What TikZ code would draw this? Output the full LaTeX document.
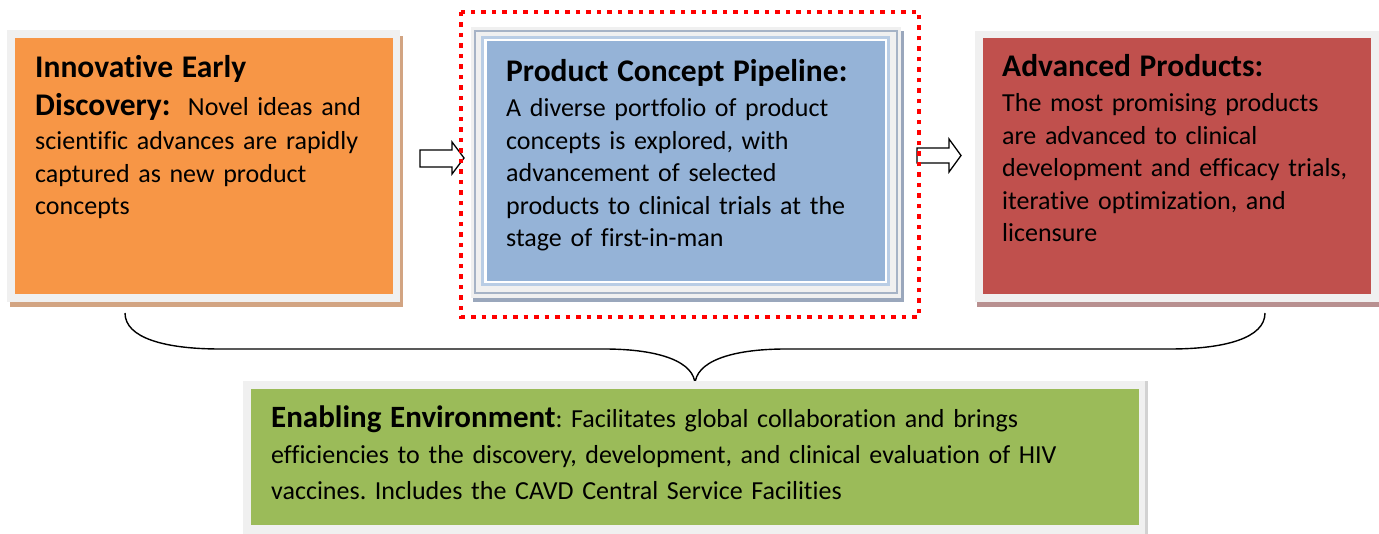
\documentclass[tikz,border=0pt]{standalone}
\usepackage{fontspec}
\setmainfont{Carlito}[Ligatures=NoCommon, RawFeature={-clig;-calt;-dlig}]
\frenchspacing
\newcommand\boxtitle[1]{{\fontsize{31.5}{32.5}\selectfont\bfseries #1}}
\definecolor{framegray}{HTML}{F0F0F0}
\definecolor{discfill}{HTML}{F79646}
\definecolor{discshadow}{HTML}{D2A482}
\definecolor{pipefill}{HTML}{95B3D7}
\definecolor{pipeframe}{HTML}{B9CDE5}
\definecolor{pipeback}{HTML}{9AA7BC}
\definecolor{pipeline}{HTML}{A6B3C6}
\definecolor{advfill}{HTML}{C0504D}
\definecolor{advshadow}{HTML}{B89090}
\definecolor{envfill}{HTML}{9BBB59}
\definecolor{envshadow}{HTML}{D2D2D2}
\definecolor{dotred}{HTML}{FF0000}
\begin{document}
\begin{tikzpicture}[x=1pt,y=-1pt,
  bodytext/.style={anchor=base west, inner sep=0pt, text width=#1, align=left,
    font=\fontsize{26}{32.5}\selectfont},
  blockarrow/.style={draw=black, line width=1.3pt, fill=white, line join=miter}]
\useasboundingbox (0,0) rectangle (1379,534);

% Innovative Early Discovery
\fill[discshadow] (10,36) rectangle (403,307);
\fill[framegray] (7,30) rectangle (400,302);
\fill[discfill] (15,38) rectangle (393,294);
\node[bodytext=360pt] (disc) at (35,78)
  {\boxtitle{Innovative Early}\\[5pt]
   \boxtitle{Discovery:}\ \ Novel ideas and\\[2pt]
   scientific advances are rapidly\\
   captured as new product\\
   concepts};

% Product Concept Pipeline (stacked sheets)
\fill[pipeback] (473,31) rectangle (904,302);
\fill[framegray] (471,27) rectangle (901,298);
\draw[pipeline, line width=1.5pt, fill=framegray] (475,31) rectangle (897,293);
\fill[pipeframe] (481,36) rectangle (890,286);
\fill[white] (484,39) rectangle (887,283);
\fill[pipefill] (487,41) rectangle (885,281);
\node[bodytext=370pt] (pipe) at (506,82)
  {\boxtitle{Product Concept Pipeline:}\\[2.5pt]
   A diverse portfolio of product\\
   concepts is explored, with\\
   advancement of selected\\
   products to clinical trials at the\\
   stage of first-in-man};

% Advanced Products
\fill[advshadow] (977,36) rectangle (1382,307);
\fill[framegray] (975,31) rectangle (1379,302);
\fill[advfill] (983,38) rectangle (1371,294);
\node[bodytext=375pt] (adv) at (1002,77)
  {\boxtitle{Advanced Products:}\\[2.5pt]
   The most promising products\\
   are advanced to clinical\\
   development and efficacy trials,\\
   iterative optimization, and\\
   licensure};

% Block arrows between the stages
\draw[blockarrow] (420,150) -- (452,150) -- (452,142) -- (464,158)
  -- (452,174) -- (452,167) -- (420,167) -- cycle;
\draw[blockarrow] (917,148) -- (949,148) -- (949,139) -- (961,155.5)
  -- (949,172) -- (949,163) -- (917,163) -- cycle;

% Highlight around the pipeline stage
\draw[dotred, line width=4.5pt, dash pattern=on 4.5pt off 6pt] (461,12) rectangle (919,317);

% Brace gathering the three stages
\coordinate (bl) at (125,313);
\coordinate (br) at (1265,313);
\coordinate (bt) at (695,385);
\draw[line width=1.4pt] (bl) .. controls (125,338) and (165,349) .. (220,349)
  -- (604,349) .. controls (660,349) and (695,362) .. (bt)
  .. controls (695,362) and (730,349) .. (786,349)
  -- (1170,349) .. controls (1225,349) and (1265,338) .. (br);

% Enabling Environment
\fill[framegray] (243,381) rectangle (1148,540);
\fill[envshadow] (1145,381) rectangle (1148,540);
\fill[envfill] (251,389) rectangle (1139,525);
\node[bodytext=870pt, font=\fontsize{26}{36}\selectfont] (env) at (271,428)
  {{\fontsize{31}{36}\selectfont\bfseries Enabling Environment}: Facilitates global collaboration and brings\\
   efficiencies to the discovery, development, and clinical evaluation of HIV\\
   vaccines. Includes the CAVD Central Service Facilities};
\end{tikzpicture}
\end{document}
